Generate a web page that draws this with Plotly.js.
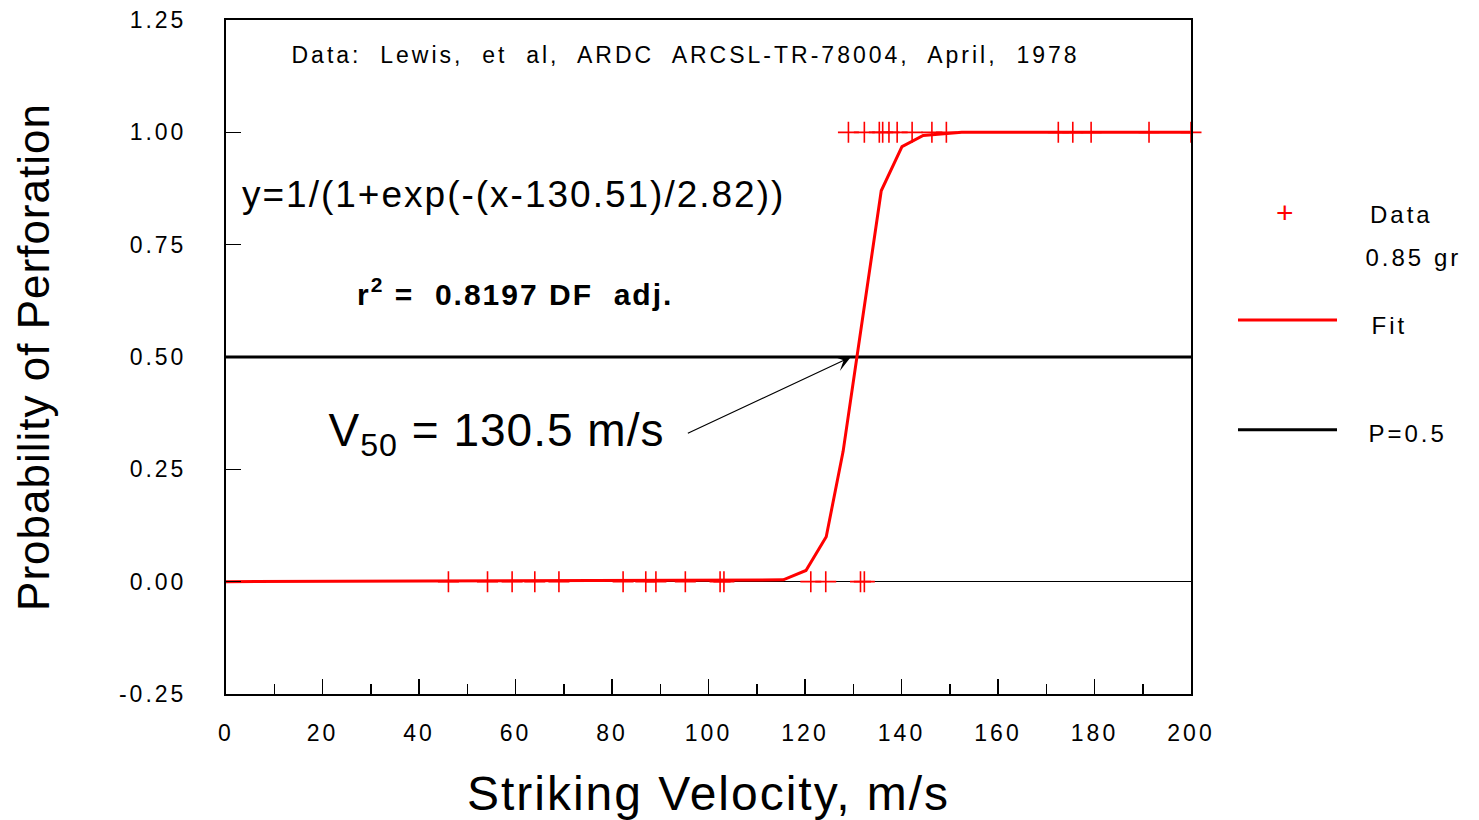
<!DOCTYPE html>
<html>
<head>
<meta charset="utf-8">
<script src="https://cdn.plot.ly/plotly-3.0.1.min.js"></script>
<style>
  html, body { margin: 0; padding: 0; background: #fff; }
  #chart { width: 1479px; height: 820px; }
  .xtick text, .ytick text { letter-spacing: 3px; }
  .g-xtitle text { letter-spacing: 2px; }
  .g-ytitle text { letter-spacing: 1px; }
  .annotation[data-index="0"] text { letter-spacing: 3px; }
  .annotation[data-index="1"] text { letter-spacing: 2px; }
  .annotation[data-index="2"] text { letter-spacing: 2px; }
  .annotation[data-index="3"] text { letter-spacing: 1px; }
  .annotation[data-index="6"] text, .annotation[data-index="7"] text,
  .annotation[data-index="8"] text, .annotation[data-index="9"] text { letter-spacing: 3px; }
</style>
</head>
<body>
<div id="chart"></div>
<script>
// Observed trials: striking velocity (m/s) and outcome (0 = no perforation, 1 = perforation)
const dataX = [46.1, 54.2, 59.3, 64.0, 69.0, 82.3, 87.0, 89.1, 95.2, 102.4, 103.2, 121.2, 124.3, 131.5, 132.3,
               129.0, 132.3, 135.4, 136.1, 137.4, 139.1, 142.2, 146.3, 149.3, 172.5, 175.5, 179.3, 191.3, 200.0];
const dataY = [0, 0, 0, 0, 0, 0, 0, 0, 0, 0, 0, 0, 0, 0, 0,
               1, 1, 1, 1, 1, 1, 1, 1, 1, 1, 1, 1, 1, 1];

// Fit curve vertices
const fitX = [0, 115.5, 120.2, 124.4, 127.9, 135.8, 140.1, 144.5, 152.5, 200];
const fitY = [0, 0.004, 0.025, 0.10, 0.29, 0.87, 0.968, 0.993, 1.0, 1.0];

// Reference line P = 0.5
const refX = [0, 200];
const refY = [0.5, 0.5];

// Axis ticks
const xTicks = [0, 20, 40, 60, 80, 100, 120, 140, 160, 180, 200];
const yTicks = [-0.25, 0, 0.25, 0.5, 0.75, 1.0, 1.25];
const yTickText = ["-0.25", "0.00", "0.25", "0.50", "0.75", "1.00", "1.25"];

const font = "Liberation Sans, Arial, sans-serif";

const traces = [
  { x: refX, y: refY, mode: "lines", line: { color: "#000", width: 3 }, showlegend: false, hoverinfo: "skip" },
  { x: fitX, y: fitY, mode: "lines", line: { color: "#ff0000", width: 3 }, showlegend: false, cliponaxis: false },
  { x: dataX, y: dataY, mode: "markers", showlegend: false, cliponaxis: false,
    marker: { symbol: "cross-thin", size: 15, color: "#ff0000", line: { color: "#ff0000", width: 1.6 } } }
];

const layout = {
  width: 1479, height: 820,
  margin: { l: 226, r: 288, t: 20, b: 126 },
  paper_bgcolor: "#fff", plot_bgcolor: "#fff",
  font: { family: font, color: "#000" },
  showlegend: false,
  xaxis: {
    range: [0, 200], tickvals: xTicks, ticks: "inside", ticklen: 15, tickwidth: 1.5, tickcolor: "#000",
    minor: { dtick: 10, ticks: "inside", ticklen: 10, tickwidth: 1.5, tickcolor: "#000" },
    showline: true, linewidth: 2, linecolor: "#000", mirror: true, showgrid: false, zeroline: false,
    tickfont: { size: 23, family: font }, ticklabelstandoff: 17,
    title: { text: "Striking Velocity, m/s", font: { size: 48, family: font }, standoff: 33 }
  },
  yaxis: {
    range: [-0.25, 1.25], tickvals: yTicks, ticktext: yTickText, ticks: "inside", ticklen: 15, tickwidth: 1.5,
    tickcolor: "#000", showline: true, linewidth: 2, linecolor: "#000", mirror: true, showgrid: false,
    zeroline: true, zerolinecolor: "#000", zerolinewidth: 1,
    tickfont: { size: 23, family: font }, ticklabelstandoff: 33,
    title: { text: "Probability of Perforation", font: { size: 44, family: font }, standoff: 56 }
  },
  annotations: [
    { x: 95.3, y: 1.173, xref: "x", yref: "y", text: "Data:  Lewis,  et  al,  ARDC  ARCSL-TR-78004,  April,  1978",
      showarrow: false, xanchor: "center", yanchor: "middle", font: { size: 23, family: font } },
    { x: 8.9, y: 0.862, xref: "x", yref: "y", text: "y=1/(1+exp(-(x-130.51)/2.82))",
      showarrow: false, xanchor: "left", yanchor: "middle", font: { size: 37, family: font } },
    { x: 31.1, y: 0.645, xref: "x", yref: "y", text: "<b>r<sup>2</sup> =  0.8197 DF  adj.</b>",
      showarrow: false, xanchor: "left", yanchor: "middle", font: { size: 30, family: font } },
    { x: 22.3, y: 0.33, xref: "x", yref: "y", text: "V<sub>50</sub> = 130.5 m/s",
      showarrow: false, xanchor: "left", yanchor: "middle", font: { size: 46, family: font } },
    { x: 129.5, y: 0.5, xref: "x", yref: "y", ax: 95.1, ay: 0.327, axref: "x", ayref: "y", text: " ",
      showarrow: true, arrowhead: 3, arrowsize: 2.2, arrowwidth: 1.2, arrowcolor: "#000" },
    { x: 1.097, y: 0.715, xref: "paper", yref: "paper", text: "+", showarrow: false,
      xanchor: "center", yanchor: "middle", font: { size: 30, color: "#ff0000", family: font } },
    { x: 1.19, y: 0.711, xref: "paper", yref: "paper", text: "Data", showarrow: false,
      xanchor: "left", yanchor: "middle", font: { size: 24, family: font } },
    { x: 1.19, y: 0.648, xref: "paper", yref: "paper", text: "0.85 gr", showarrow: false,
      xanchor: "left", yanchor: "middle", font: { size: 24, family: font } },
    { x: 1.19, y: 0.547, xref: "paper", yref: "paper", text: "Fit", showarrow: false,
      xanchor: "left", yanchor: "middle", font: { size: 24, family: font } },
    { x: 1.19, y: 0.387, xref: "paper", yref: "paper", text: "P=0.5", showarrow: false,
      xanchor: "left", yanchor: "middle", font: { size: 24, family: font } }
  ],
  shapes: [
    { type: "line", xref: "paper", yref: "paper", x0: 1.0487, x1: 1.1513, y0: 0.555, y1: 0.555,
      line: { color: "#ff0000", width: 3 } },
    { type: "line", xref: "paper", yref: "paper", x0: 1.0487, x1: 1.1513, y0: 0.392, y1: 0.392,
      line: { color: "#000", width: 3 } }
  ]
};

Plotly.newPlot("chart", traces, layout, { displayModeBar: false, staticPlot: true });
</script>
</body>
</html>
